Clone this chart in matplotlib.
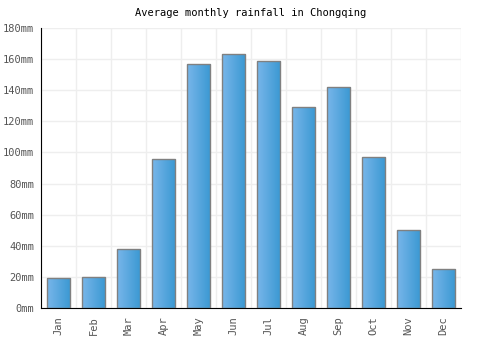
import numpy as np
import matplotlib.pyplot as plt
from matplotlib.colors import LinearSegmentedColormap

# data
months = ["Jan", "Feb", "Mar", "Apr", "May", "Jun",
          "Jul", "Aug", "Sep", "Oct", "Nov", "Dec"]
rainfall = [19, 20, 38, 96, 157, 163, 159, 129, 142, 97, 50, 25]
yticks = [0, 20, 40, 60, 80, 100, 120, 140, 160, 180]

plt.rcParams["font.family"] = ["DejaVu Sans Mono"]

fig = plt.figure(figsize=(5, 3.5), dpi=100)
ax = fig.add_axes([0.082, 0.12, 0.84, 0.8])

x = np.arange(len(months))
bars = ax.bar(x, rainfall, width=0.66, color="none", edgecolor="#808080",
              linewidth=1.0, zorder=3)

# horizontal gradient fill inside each bar
cmap = LinearSegmentedColormap.from_list("rain", ["#78b6ea", "#3a98d2"])
grad = np.linspace(0, 1, 64).reshape(1, -1)
for b in bars:
    x0, y0 = b.get_x(), b.get_y()
    w, h = b.get_width(), b.get_height()
    im = ax.imshow(grad, cmap=cmap, aspect="auto",
                   extent=[x0, x0 + w, y0, y0 + h], zorder=2)
    im.set_clip_path(b)

ax.set_xlim(-0.5, len(months) - 0.5)
ax.set_ylim(0, 180)
ax.set_yticks(yticks)
ax.set_yticklabels([f"{v}mm" for v in yticks])
ax.set_xticks(x)
ax.set_xticklabels(months, rotation=90)

# grid: horizontal at ticks, vertical between months
ax.set_xticks(np.arange(len(months) + 1) - 0.5, minor=True)
ax.grid(True, axis="y", color="#eeeeee", linewidth=1, zorder=0)
ax.grid(True, axis="x", which="minor", color="#eeeeee", linewidth=1, zorder=0)
ax.set_axisbelow(True)

for s in ["top", "right"]:
    ax.spines[s].set_visible(False)
ax.spines["left"].set_color("black")
ax.spines["bottom"].set_color("black")

ax.tick_params(axis="both", which="both", length=0, labelsize=7.5,
               labelcolor="#555555")
ax.tick_params(axis="x", pad=6)
ax.tick_params(axis="y", pad=5)

ax.set_title("Average monthly rainfall in Chongqing", fontsize=7.5, pad=9)

fig.savefig("out.png", dpi=100)
